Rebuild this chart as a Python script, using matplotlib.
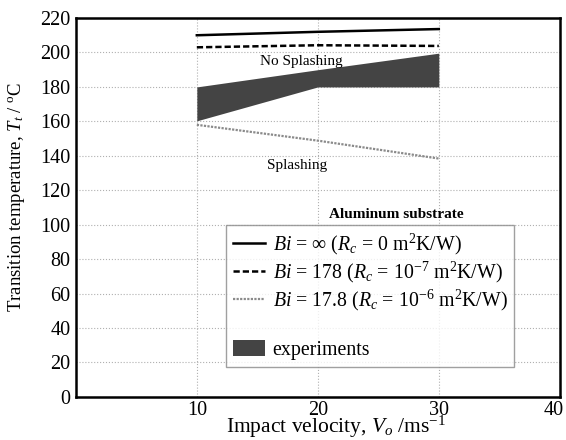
import matplotlib
matplotlib.use("Agg")
import matplotlib.pyplot as plt
import matplotlib.transforms as mtransforms
from matplotlib.lines import Line2D
from matplotlib.patches import Patch

plt.rcParams['font.family'] = ['Liberation Serif', 'DejaVu Serif']
plt.rcParams['mathtext.fontset'] = 'custom'
plt.rcParams['mathtext.rm'] = 'Liberation Serif'
plt.rcParams['mathtext.it'] = 'Liberation Serif:italic'

velocity = [10, 20, 30]
bi_inf = [210, 212, 213.6]
bi_178 = [203, 204.2, 203.8]
bi_17_8 = [158, 148.8, 138.4]
exp_upper = [180, 190, 199.6]
exp_lower = [160.3, 180, 180]

fig = plt.figure(figsize=(5.66, 4.4), dpi=100)
ax = fig.add_axes([0.134, 0.098, 0.855, 0.861])

ax.fill_between(velocity, exp_lower, exp_upper, color='#444444', linewidth=0)
ax.plot(velocity, bi_inf, color='black', lw=1.8, ls='-')
ax.plot(velocity, bi_178, color='black', lw=1.8, ls=(0, (2.5, 1.2)))
ax.plot(velocity, bi_17_8, color='#8a8a8a', lw=1.6, ls=(0, (1, 0.6)))

ax.set_xlim(0, 40)
ax.set_ylim(0, 220)
ax.set_xticks([10, 20, 30, 40])
ax.set_yticks(range(0, 221, 20))
ax.tick_params(labelsize=14.5, length=0)
ax.tick_params(axis='x', pad=3)
ax.tick_params(axis='y', pad=4)
ax.grid(True, color='#b0b0b0', ls=':', lw=0.8)
ax.set_axisbelow(True)
for s in ax.spines.values():
    s.set_linewidth(1.8)

fig.canvas.draw()
last = ax.get_xticklabels()[-1]
last.set_transform(last.get_transform() +
                   mtransforms.ScaledTranslation(-6 / 100, 0, fig.dpi_scale_trans))

ax.set_xlabel(r'Impact velocity, $V_o$ /ms$^{-1}$', fontsize=15.5)
ax.xaxis.set_label_coords(0.537, -0.079)
ax.xaxis.label.set_va('center')
ax.set_ylabel(r'Transition temperature, $T_t$ / $^{\rm o}$C', fontsize=13.5)
ax.yaxis.set_label_coords(-0.122, 0.529)
ax.yaxis.label.set_va('center')

ax.text(18.6, 194.8, 'No Splashing', fontsize=11, ha='center', va='center')
ax.text(18.3, 134.5, 'Splashing', fontsize=11, ha='center', va='center')
ax.text(26.5, 106, 'Aluminum substrate', fontsize=11, fontweight='bold', ha='center', va='center')

handles = [
    Line2D([], [], color='black', lw=1.8, ls='-'),
    Line2D([], [], color='black', lw=1.8, ls=(0, (2.5, 1.2))),
    Line2D([], [], color='#8a8a8a', lw=1.6, ls=(0, (1, 0.6))),
    Line2D([], [], color='none'),
    Patch(facecolor='#444444', edgecolor='none'),
]
labels = [
    r'$Bi$ = $\infty$ ($R_c$ = 0 m$^2$K/W)',
    r'$Bi$ = 178 ($R_c$ = 10$^{-7}$ m$^2$K/W)',
    r'$Bi$ = 17.8 ($R_c$ = 10$^{-6}$ m$^2$K/W)',
    ' ',
    'experiments',
]
leg = ax.legend(handles, labels, loc='upper left', bbox_to_anchor=(0.31, 0.454),
                borderaxespad=0, fontsize=14.3, frameon=True, fancybox=False,
                edgecolor='#888888', handlelength=1.6, handleheight=0.9,
                handletextpad=0.4, borderpad=0.35, labelspacing=0.15)
leg.get_frame().set_linewidth(1.0)

fig.savefig('out.png', dpi=100)
